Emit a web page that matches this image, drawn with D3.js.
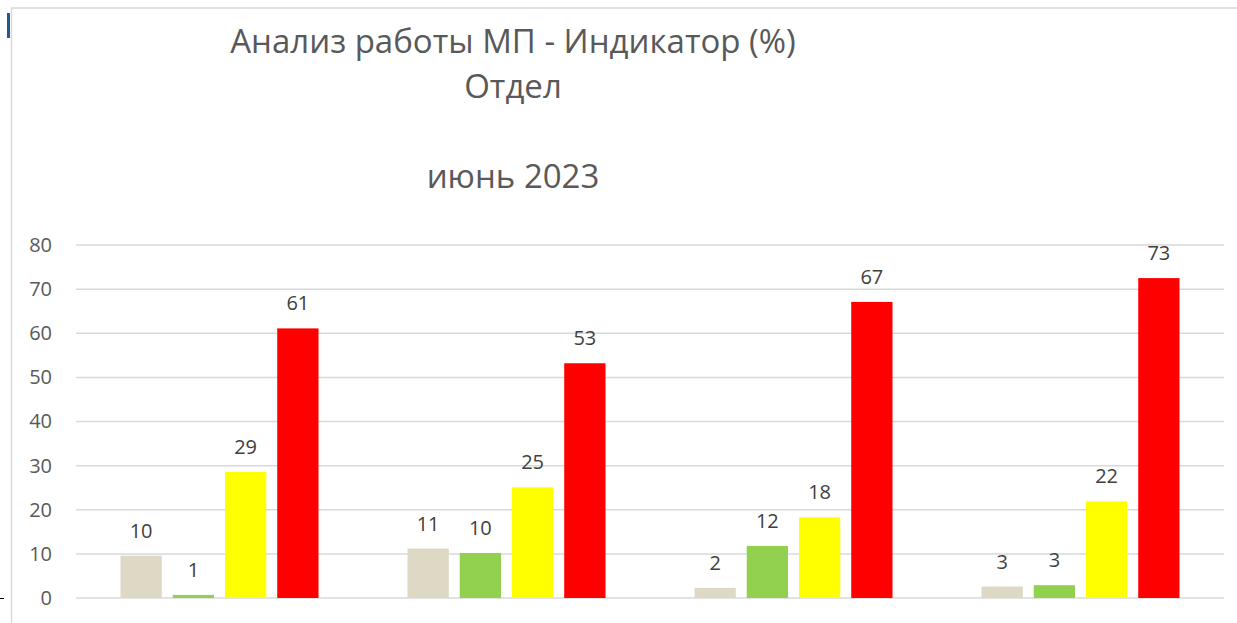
<!DOCTYPE html>
<html>
<head>
<meta charset="utf-8">
<script src="https://cdn.jsdelivr.net/npm/d3@7"></script>
<style>
  body { margin: 0; background: #fff; }
  svg { display: block; font-family: "Open Sans", sans-serif; }
</style>
</head>
<body>
<div id="chart"></div>
<script>
// data
var groups = ["Группа 1", "Группа 2", "Группа 3", "Группа 4"];
var seriesNames = ["s1", "s2", "s3", "s4"];
var seriesColors = ["#ddd9c4", "#92d050", "#ffff00", "#ff0000"];
var s1 = [9.6, 11.2, 2.3, 2.6];
var s2 = [0.7, 10.2, 11.8, 2.9];
var s3 = [28.6, 25.1, 18.3, 21.9];
var s4 = [61.1, 53.2, 67.1, 72.5];
var yTicks = [0, 10, 20, 30, 40, 50, 60, 70, 80];
var titleLines = ["Анализ работы МП - Индикатор (%)", "Отдел", "", "июнь 2023"];

var width = 1237, height = 623;
var series = [s1, s2, s3, s4];

var svg = d3.select("#chart").append("svg")
    .attr("width", width)
    .attr("height", height);

// frame
svg.append("line")
    .attr("x1", 11).attr("x2", width)
    .attr("y1", 8).attr("y2", 8)
    .style("stroke", "#d9d9d9").style("stroke-width", 1.5);
svg.append("line")
    .attr("x1", 11.5).attr("x2", 11.5)
    .attr("y1", 8).attr("y2", height)
    .style("stroke", "#d9d9d9").style("stroke-width", 1.5);
svg.append("rect")
    .attr("x", 7).attr("y", 13)
    .attr("width", 3).attr("height", 25)
    .attr("fill", "#1f5a96");
svg.append("line")
    .attr("x1", 0).attr("x2", 4)
    .attr("y1", 598.5).attr("y2", 598.5)
    .style("stroke", "#000").style("stroke-width", 1);

// title
svg.append("text")
    .attr("x", 513)
    .attr("y", 53)
    .attr("text-anchor", "middle")
    .style("font-size", "33px")
    .style("fill", "#595959")
    .selectAll("tspan")
    .data(titleLines)
    .enter()
    .append("tspan")
    .attr("x", 513)
    .attr("dy", (d, i) => i === 0 ? 0 : 45)
    .text(d => d === "" ? "\u00a0" : d);

var plotLeft = 76, plotRight = 1224, plotTop = 245, plotBottom = 598;

var y = d3.scaleLinear().domain([0, 80]).range([plotBottom, plotTop]);
var x0 = d3.scaleBand().domain(groups).range([plotLeft, plotRight]).padding(0);
var x1 = d3.scaleBand().domain(seriesNames)
    .range([44.5, x0.bandwidth() - 44.5])
    .paddingInner(0.21).paddingOuter(0);

// grid
svg.append("g")
    .selectAll("line")
    .data(yTicks)
    .enter()
    .append("line")
    .attr("x1", plotLeft).attr("x2", plotRight)
    .attr("y1", d => y(d)).attr("y2", d => y(d))
    .style("stroke", "#d9d9d9").style("stroke-width", 1.5);

// y axis labels
var yAxis = d3.axisLeft(y).tickValues(yTicks).tickSize(0).tickPadding(0);
svg.append("g")
    .attr("transform", "translate(52,0)")
    .call(yAxis)
    .call(g => g.select(".domain").remove())
    .selectAll("text")
    .style("font-family", "Open Sans, sans-serif")
    .style("font-size", "20px")
    .style("fill", "#595959");

// bars
var rows = [];
groups.forEach((g, gi) => {
    seriesNames.forEach((s, si) => {
        rows.push({ group: g, series: s, value: series[si][gi], color: seriesColors[si] });
    });
});

var bars = svg.append("g");
bars.selectAll("rect")
    .data(rows)
    .enter()
    .append("rect")
    .attr("x", d => x0(d.group) + x1(d.series))
    .attr("y", d => y(d.value))
    .attr("width", x1.bandwidth())
    .attr("height", d => y(0) - y(d.value))
    .attr("fill", d => d.color);

bars.selectAll("text")
    .data(rows)
    .enter()
    .append("text")
    .attr("x", d => x0(d.group) + x1(d.series) + x1.bandwidth() / 2)
    .attr("y", d => y(d.value) - 18)
    .attr("text-anchor", "middle")
    .style("font-size", "20px")
    .style("fill", "#404040")
    .text(d => Math.round(d.value));
</script>
</body>
</html>
